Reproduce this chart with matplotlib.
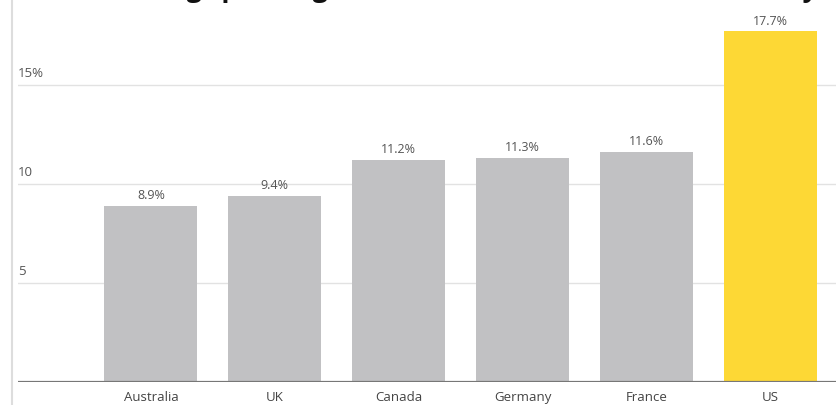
import matplotlib
matplotlib.use("Agg")
import matplotlib.pyplot as plt
from matplotlib.lines import Line2D

countries = ["Australia", "UK", "Canada", "Germany", "France", "US"]
values = [8.9, 9.4, 11.2, 11.3, 11.6, 17.7]
value_labels = ["8.9%", "9.4%", "11.2%", "11.3%", "11.6%", "17.7%"]
yticks = [5, 10, 15]
ytick_labels = ["5", "10", "15%"]
title = "Big spending: health care as share of the economy"

plt.rcParams['font.family'] = ['Open Sans', 'DejaVu Sans']

W, H = 836, 406
fig = plt.figure(figsize=(W / 100, H / 100), dpi=100)
ax_left, ax_right = 18 / W, 836 / W
ax_bottom = 23 / H
ax = fig.add_axes([ax_left, ax_bottom, ax_right - ax_left, 1 - ax_bottom])

colors = ["#c1c1c3"] * 5 + ["#fdd835"]
x = list(range(len(countries)))
ax.bar(x, values, width=0.75, color=colors, zorder=2)

ax.set_xlim(-1.073, 5.53)
ax.set_ylim(0, 19.34)

for yt, lab in zip(yticks, ytick_labels):
    ax.axhline(yt, color="#e2e2e2", lw=1, zorder=1)
    ax.text(0.0, yt + 0.3, lab, transform=ax.get_yaxis_transform(),
            ha="left", va="bottom", fontsize=9.5, color="#555555")

ax.axhline(0, color="#777777", lw=1.6, zorder=3)

for xi, v, lab in zip(x, values, value_labels):
    ax.text(xi, v + 0.25, lab, ha="center", va="bottom", fontsize=9, color="#555555")

ax.set_xticks(x)
ax.set_xticklabels(countries, fontsize=9.5, color="#444444")
ax.tick_params(axis="x", length=0, pad=6)
ax.set_yticks([])
for s in ax.spines.values():
    s.set_visible(False)

# left light vertical rule
fig.add_artist(Line2D([12 / W, 12 / W], [0, 1], transform=fig.transFigure,
                      color="#dddddd", lw=1.5))

# title, mostly cut off at top (as in the reference)
fig.text(818 / W, 1 + 3 / H, title, ha="right", va="baseline",
         fontsize=19, fontweight="bold", color="#111111")

fig.savefig("out.png", dpi=100)
